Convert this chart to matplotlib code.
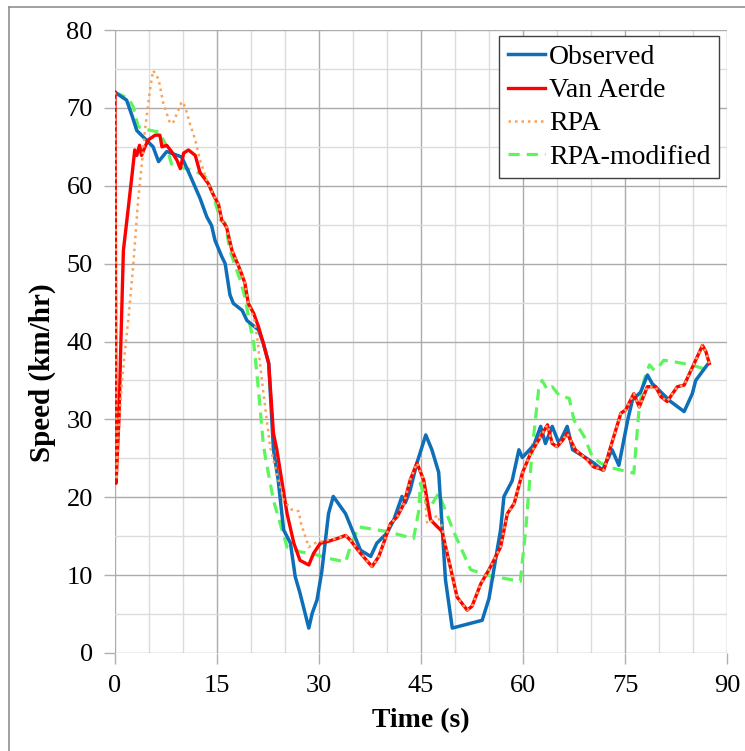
import matplotlib
matplotlib.use("Agg")
import matplotlib.pyplot as plt
from matplotlib.lines import Line2D
from matplotlib.ticker import MultipleLocator

plt.rcParams["font.family"] = ["Liberation Serif", "DejaVu Serif"]

# Observed speed profile
obs_t = [0, 1.7, 2.5, 3.2, 5.6, 6.4, 7.6, 9.8, 10.8, 12.5, 13.5, 14.2, 14.7,
         15.7, 16.2, 16.9, 17.4, 18.7, 19.4, 21.1, 21.8, 22.6, 23.3, 24.0,
         24.8, 25.8, 26.5, 27.2, 28.5, 29.0, 29.7, 30.4, 31.4, 32.1, 33.9,
         36.1, 37.6, 38.5, 40.0, 41.0, 42.2, 42.7, 43.4, 44.4, 45.7, 46.6,
         47.6, 48.6, 49.6, 54.0, 55.0, 56.7, 57.2, 58.4, 59.4, 59.9, 61.6,
         62.6, 63.3, 64.3, 65.3, 66.5, 67.3, 69.0, 70.4, 71.7, 73.1, 74.1,
         75.4, 76.1, 77.3, 78.3, 79.0, 81.7, 83.7, 84.9, 85.4, 87.1]
obs_v = [72.0, 71.0, 69.0, 67.1, 65.0, 63.1, 64.4, 63.7, 61.8, 58.4, 56.0,
         54.9, 53.0, 50.9, 50.0, 46.0, 44.9, 44.0, 42.7, 41.5, 39.8, 37.2,
         26.1, 22.2, 15.8, 14.1, 9.8, 7.7, 3.2, 5.1, 6.8, 10.4, 17.9, 20.1,
         17.9, 13.2, 12.4, 14.1, 15.4, 17.1, 20.1, 19.3, 20.9, 24.4, 28.0,
         26.1, 23.2, 9.4, 3.2, 4.2, 7.0, 15.8, 20.1, 22.1, 26.1, 25.1, 26.7,
         29.1, 26.9, 29.1, 26.9, 29.1, 26.1, 25.2, 24.4, 23.5, 26.1, 24.1,
         29.9, 32.5, 33.5, 35.7, 34.6, 32.3, 31.0, 33.3, 35.0, 37.0]

# Van Aerde model
va_t = [0, 0.15, 0.59, 0.83, 1.23, 1.72, 2.5, 2.9, 3.2, 3.6, 3.9, 4.4, 4.9,
        5.9, 6.6, 6.9, 7.6, 8.3, 9.1, 9.6, 10.1, 10.8, 11.8, 12.5, 13.7,
        14.7, 15.2, 15.7, 16.4, 17.2, 18.4, 19.1, 19.6, 20.4, 21.1, 21.8,
        22.6, 23.3, 23.8, 25.3, 26.3, 27.2, 28.5, 29.2, 30.2, 31.2, 32.7,
        33.9, 34.6, 36.1, 37.8, 38.8, 39.5, 40.5, 41.5, 42.5, 43.4, 44.4,
        45.4, 46.4, 48.1, 49.3, 50.3, 51.8, 52.5, 53.8, 55.0, 56.7, 57.7,
        58.7, 59.9, 61.1, 62.6, 63.6, 64.3, 65.0, 65.8, 66.5, 67.7, 69.5,
        70.4, 71.9, 72.9, 74.4, 75.1, 76.3, 77.1, 78.3, 79.5, 80.3, 81.2,
        82.7, 83.7, 85.4, 86.4, 86.9, 87.4]
va_v = [72.0, 21.8, 30.3, 38.9, 51.7, 55.4, 61.4, 64.6, 63.9, 65.2, 63.9,
        65.0, 65.9, 66.5, 66.5, 65.0, 65.2, 64.4, 63.3, 62.2, 64.2, 64.6,
        63.9, 61.7, 60.3, 58.4, 57.7, 55.6, 54.7, 51.7, 49.2, 47.5, 44.9,
        43.6, 41.9, 39.8, 37.2, 28.2, 26.1, 17.9, 14.1, 11.9, 11.3, 12.8,
        14.1, 14.3, 14.7, 15.1, 14.5, 12.8, 11.1, 12.4, 14.1, 16.6, 17.5,
        19.2, 22.2, 24.4, 22.2, 17.1, 15.6, 11.1, 7.2, 5.5, 6.0, 8.9, 10.7,
        13.6, 17.9, 19.2, 23.1, 25.6, 27.8, 29.3, 26.9, 26.5, 27.3, 28.2,
        26.1, 24.8, 23.9, 23.5, 26.5, 30.8, 31.2, 33.3, 31.6, 34.2, 34.2,
        32.9, 32.3, 34.2, 34.4, 37.6, 39.5, 38.7, 37.2]

# RPA model
rpa_t = [0, 0.25, 0.49, 1.0, 1.47, 2.0, 2.7, 3.4, 3.9, 4.4, 5.2, 5.6, 6.4,
         7.1, 8.1, 8.6, 9.8, 10.3, 11.0, 11.8, 12.5, 13.5, 14.7, 15.2, 15.7,
         16.4, 17.2, 18.4, 19.1, 19.6, 20.4, 20.9, 21.6, 22.8, 24.8, 26.0,
         27.0, 27.4, 28.5, 29.4, 30.2, 31.2, 32.7, 33.9, 34.6, 36.1, 37.8,
         38.8, 39.5, 40.5, 41.5, 42.5, 43.4, 44.4, 45.4, 45.9, 46.6, 47.4,
         48.1, 49.3, 50.3, 51.8, 52.5, 53.8, 55.0, 56.7, 57.7, 58.7, 59.9,
         61.1, 62.6, 63.6, 64.3, 65.0, 65.8, 66.5, 67.7, 69.5, 70.4, 71.9,
         72.9, 74.4, 75.1, 76.3, 77.1, 78.3, 79.5, 80.3, 81.2, 82.7, 83.7,
         85.4, 86.4, 86.9, 87.4]
rpa_v = [72.0, 22.2, 28.2, 34.6, 38.9, 43.2, 50.0, 58.2, 62.4, 67.1, 72.7,
         74.8, 73.7, 70.6, 68.0, 68.2, 70.8, 70.2, 68.0, 65.9, 63.3, 60.7,
         58.4, 57.7, 55.6, 54.7, 51.7, 49.2, 47.5, 44.9, 43.0, 40.6, 35.0,
         26.5, 19.6, 18.4, 18.2, 16.5, 13.6, 14.1, 14.3, 14.5, 14.7, 15.1,
         14.5, 12.8, 11.1, 12.4, 14.1, 16.6, 17.5, 19.2, 22.2, 24.4, 22.2,
         16.6, 17.0, 17.7, 16.2, 11.1, 7.2, 5.5, 6.0, 8.9, 10.7, 13.6, 17.9,
         19.2, 23.1, 25.6, 27.8, 29.3, 26.9, 26.5, 27.3, 28.2, 26.1, 24.8,
         23.9, 23.5, 26.5, 30.8, 31.2, 33.3, 31.6, 34.2, 34.2, 32.9, 32.3,
         34.2, 34.4, 37.6, 39.5, 38.7, 37.2]

# RPA-modified model
mod_t = [0, 2.0, 2.7, 3.4, 4.2, 6.4, 7.1, 7.6, 8.3, 9.3, 10.6, 12.5, 13.5,
         14.5, 15.5, 16.2, 16.9, 18.4, 19.1, 19.9, 20.4, 21.1, 21.8, 22.1,
         23.3, 25.3, 27.2, 29.7, 31.7, 33.9, 34.6, 35.8, 40.0, 43.9, 44.7,
         44.9, 45.2, 46.1, 47.6, 49.9, 52.3, 54.7, 59.6, 60.4, 61.4, 62.3,
         62.8, 63.6, 64.3, 65.3, 66.8, 67.5, 69.0, 70.2, 71.4, 73.4, 76.3,
         77.1, 77.8, 78.3, 78.6, 79.3, 80.0, 80.7, 82.2, 84.7, 87.4]
mod_v = [72.0, 71.2, 70.1, 67.6, 67.3, 66.9, 65.9, 65.0, 62.8, 62.4, 62.2,
         61.6, 61.0, 58.6, 55.6, 55.2, 51.7, 47.9, 45.7, 41.9, 39.8, 33.8,
         26.9, 25.2, 19.6, 13.6, 13.0, 12.6, 12.1, 11.7, 13.6, 16.2, 15.6,
         14.7, 18.4, 21.8, 20.9, 18.4, 20.5, 15.4, 10.7, 10.0, 9.2, 15.8,
         26.5, 33.8, 35.0, 33.8, 34.2, 33.1, 32.7, 29.9, 27.8, 25.2, 24.4,
         23.7, 23.1, 31.6, 35.0, 36.3, 37.0, 36.3, 36.8, 37.6, 37.4, 37.0,
         36.3]

fig = plt.figure(figsize=(7.45, 7.51), dpi=100)
ax = fig.add_axes([0.1544, 0.1305, 0.8214, 0.8295])

ax.plot(obs_t, obs_v, color="#0E6EB8", lw=2.5, label="Observed", zorder=3)
ax.plot(va_t, va_v, color="#FF0000", lw=2.4, label="Van Aerde", zorder=4)
ax.plot(rpa_t, rpa_v, color="#F7A35C", lw=1.8, ls=(0, (1, 1.6)),
        label="RPA", zorder=5)
ax.plot(mod_t, mod_v, color="#5CF55C", lw=2.3, ls=(0, (3.5, 2.2)),
        label="RPA-modified", zorder=2)

ax.set_xlim(0, 90)
ax.set_ylim(0, 80)
ax.xaxis.set_major_locator(MultipleLocator(15))
ax.xaxis.set_minor_locator(MultipleLocator(5))
ax.yaxis.set_major_locator(MultipleLocator(10))
ax.yaxis.set_minor_locator(MultipleLocator(5))
ax.grid(which="major", color="#ababab", lw=1.0)
ax.grid(which="minor", color="#dcdcdc", lw=1.0)
ax.set_axisbelow(True)
for s in ax.spines.values():
    s.set_visible(False)
ax.tick_params(which="major", direction="out", length=8, width=1,
               color="#b0b0b0", labelsize=19, pad=8)
ax.tick_params(which="minor", length=0)

ax.set_xlabel("Time (s)", fontsize=20, fontweight="bold", labelpad=8)
ax.set_ylabel("Speed (km/hr)", fontsize=21, fontweight="bold")
ax.yaxis.set_label_coords(-0.097, 0.45)

leg = ax.legend(loc="upper right", bbox_to_anchor=(0.987, 0.99), fontsize=20,
                handlelength=1.35, handletextpad=0.15, borderpad=0.3,
                labelspacing=0.28, borderaxespad=0, fancybox=False,
                framealpha=1)
leg.get_frame().set_edgecolor("#404040")
leg.get_frame().set_linewidth(1.0)

# outer frame of the original figure (only top and left visible)
fig.add_artist(Line2D([9 / 745, 9 / 745], [0, 1 - 7 / 751], color="#909090", lw=1.2))
fig.add_artist(Line2D([9 / 745, 1], [1 - 7 / 751, 1 - 7 / 751], color="#909090", lw=1.2))

fig.savefig("out.png", dpi=100)
